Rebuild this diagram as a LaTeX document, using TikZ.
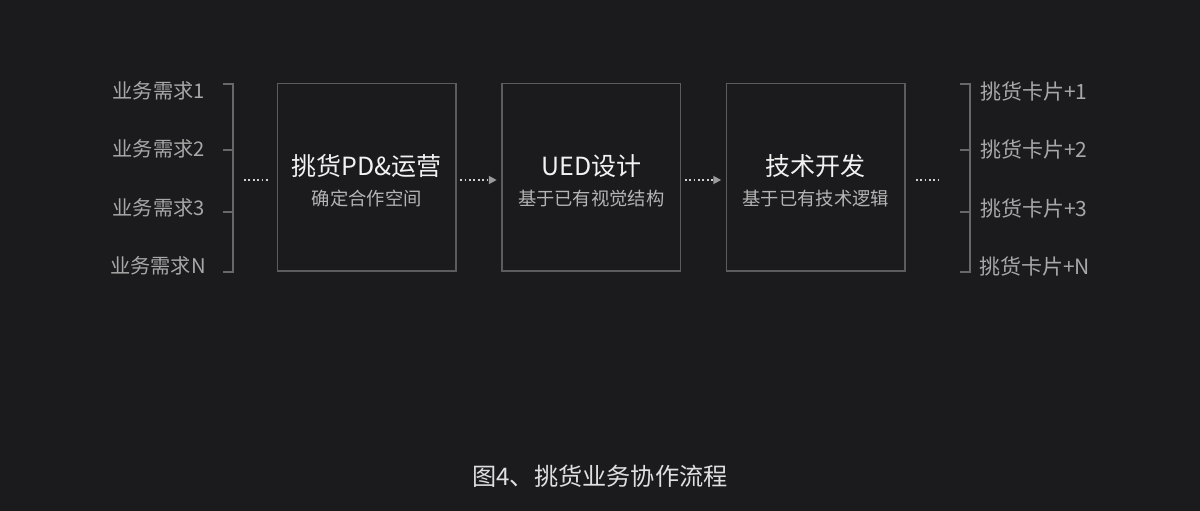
\documentclass[tikz,border=0pt]{standalone}
\usepackage{fontspec}
\setmainfont{Noto Sans CJK SC}
\usepackage{xcolor}
\usetikzlibrary{positioning,arrows.meta}
\definecolor{bgc}{HTML}{1B1B1D}
\definecolor{boxc}{HTML}{5C5C5E}
\definecolor{brkc}{HTML}{68686A}
\definecolor{labc}{HTML}{A8A8A8}
\definecolor{titc}{HTML}{F2F2F2}
\definecolor{subc}{HTML}{B4B4B4}
\definecolor{dotc}{HTML}{D0D0D0}
\definecolor{tipc}{HTML}{9A9A9C}

\begin{document}
\begin{tikzpicture}[x=1pt, y=-1pt,
  stagebox/.style={draw=boxc, line width=1.5pt, minimum width=178.5pt, minimum height=187.5pt, inner sep=0pt},
  title/.style={text=titc, font=\fontsize{25}{28}\selectfont, inner sep=0pt},
  subtitle/.style={text=subc, font=\fontsize{18.3}{20}\selectfont, inner sep=0pt},
  needlab/.style={text=labc, font=\fontsize{20.2}{22}\selectfont, inner sep=0pt, anchor=east},
  cardlab/.style={text=labc, font=\fontsize{21}{23}\selectfont, inner sep=0pt, anchor=west},
  brk/.style={draw=brkc, line width=1.2pt},
  dots/.style={draw=dotc, line width=1.8pt, dash pattern=on 1.8pt off 2.6pt},
  flow/.style={dots, -{Triangle[length=8pt, width=8pt, color=tipc]}}]
\fill[bgc] (0,0) rectangle (1200,511);
\useasboundingbox (0,0) rectangle (1200,511);
% stages
\node[stagebox] (pick) at (366.75,177.25) {};
\node[stagebox] (ued) at (591.25,177.25) {};
\node[stagebox] (dev) at (815.75,177.25) {};
\node[title] (pickt) at ([yshift=11pt]pick.center) {挑货PD\&运营};
\node[subtitle] (picks) at ([yshift=-21pt]pick.center) {确定合作空间};
\node[title] (uedt) at ([yshift=11pt]ued.center) {UED设计};
\node[subtitle] (ueds) at ([yshift=-21pt]ued.center) {基于已有视觉结构};
\node[title] (devt) at ([yshift=11pt]dev.center) {技术开发};
\node[subtitle] (devs) at ([yshift=-21pt]dev.center) {基于已有技术逻辑};
% needs
\node[needlab] (need1) at (205,91) {业务需求1};
\node[needlab] (need2) at (205,149) {业务需求2};
\node[needlab] (need3) at (205,208) {业务需求3};
\node[needlab] (needn) at (206,266) {业务需求N};
\draw[brk] (223,84) -- (233,84) -- (233,272) -- (223,272);
\draw[brk] (223,150) -- (233,150);
\draw[brk] (223,212) -- (233,212);
\coordinate (lbrk) at (233,180);
% cards
\node[cardlab] (card1) at (980,91) {挑货卡片+1};
\node[cardlab] (card2) at (980,149) {挑货卡片+2};
\node[cardlab] (card3) at (980,208) {挑货卡片+3};
\node[cardlab] (cardn) at (979,266) {挑货卡片+N};
\draw[brk] (960,84) -- (970,84) -- (970,272) -- (960,272);
\draw[brk] (960,150) -- (970,150);
\draw[brk] (960,212) -- (970,212);
\coordinate (rbrk) at (970,180);
% flow
\draw[dots, shorten <=11pt, shorten >=9pt] (lbrk) -- (lbrk -| pick.west);
\draw[flow, shorten <=3.5pt, shorten >=4.5pt] (pick.east |- lbrk) -- (ued.west |- lbrk);
\draw[flow, shorten <=3.5pt, shorten >=4.5pt] (ued.east |- lbrk) -- (dev.west |- lbrk);
\draw[dots, shorten <=10pt, shorten >=31pt] (dev.east |- rbrk) -- (rbrk);
% caption
\node[text=titc!92!black, font=\fontsize{24.2}{27}\selectfont, inner sep=0pt] (cap) at (600,476) {图4、挑货业务协作流程};
\end{tikzpicture}
\end{document}
